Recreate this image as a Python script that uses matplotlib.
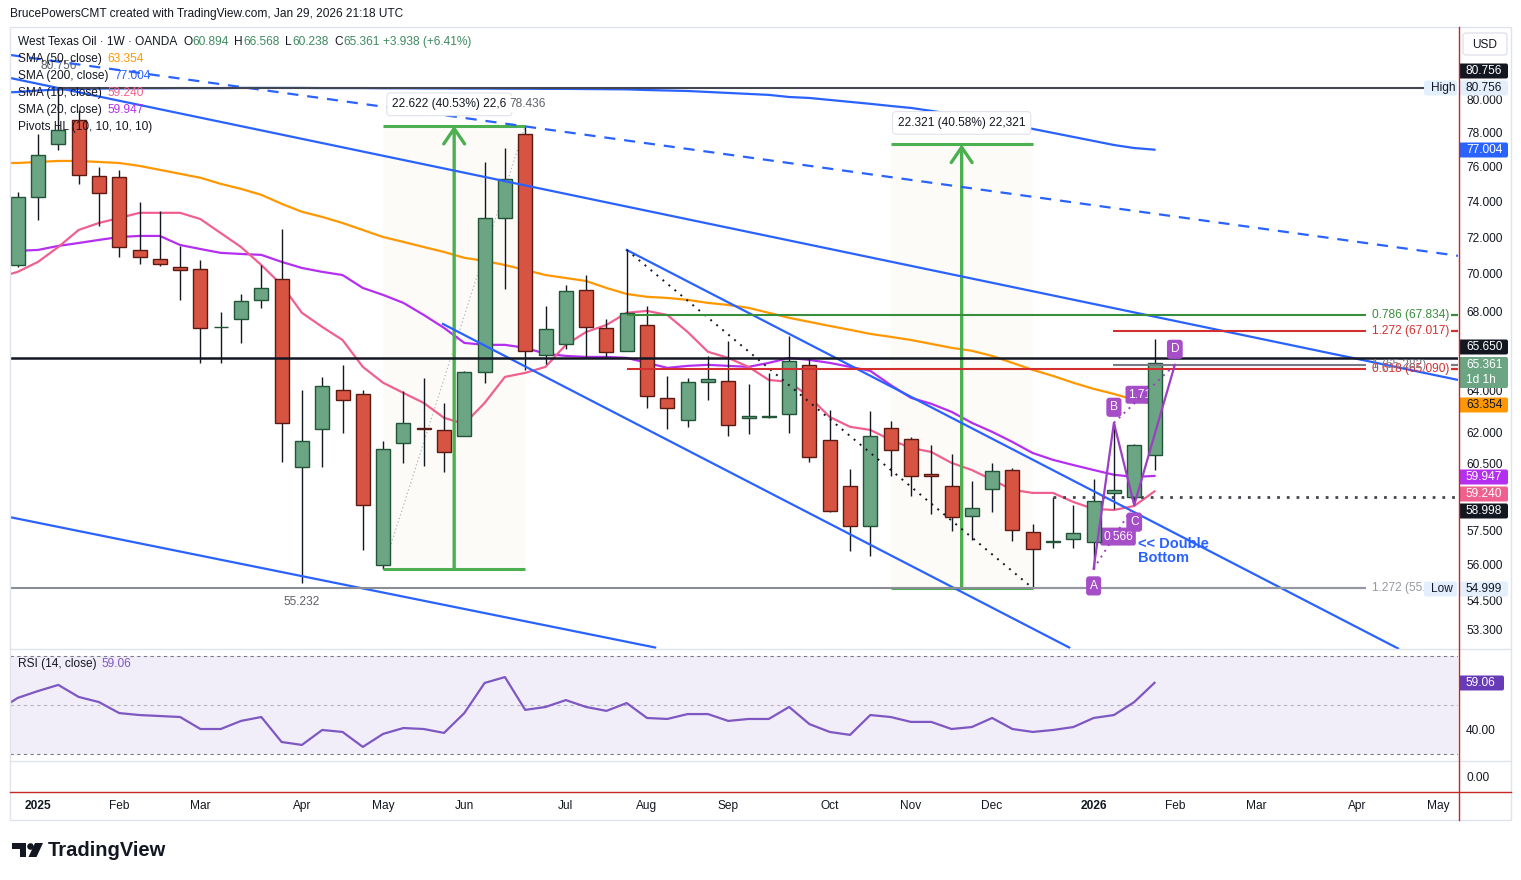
import numpy as np
import matplotlib
matplotlib.use("Agg")
import matplotlib.pyplot as plt
from matplotlib.patches import Rectangle, FancyBboxPatch, Circle, Polygon
from matplotlib.ticker import FixedLocator, FormatStrFormatter, NullLocator

plt.rcParams['font.family'] = ['Liberation Sans', 'DejaVu Sans']

########################################
# data: weekly WTI bars, bar 0 = week of 6 Jan 2025
########################################
bars = np.arange(-1, 56)
opens = [70.48, 74.27, 77.34, 78.78, 75.47, 75.41, 71.30, 70.81, 70.37, 70.27, 67.18, 67.62, 68.62, 69.73,
         60.36, 62.15, 64.04, 63.84, 55.99, 61.49, 62.20, 62.10, 61.82, 64.93, 73.07, 77.94, 65.79, 66.34,
         69.14, 67.16, 65.99, 67.31, 63.65, 62.58, 64.43, 64.48, 62.68, 62.72, 62.87, 65.28, 61.63, 59.49,
         57.69, 62.20, 61.67, 60.04, 59.49, 58.14, 59.36, 60.22, 57.42, 56.98, 57.11, 56.98, 59.17, 58.99, 60.894]
highs = [74.55, 77.94, 80.756, 79.39, 75.99, 75.82, 73.98, 73.47, 71.52, 70.76, 67.99, 68.93, 70.48, 72.46,
         64.04, 64.68, 65.28, 64.04, 61.58, 63.99, 64.63, 63.40, 64.95, 76.28, 77.11, 78.436, 68.30, 69.41,
         69.94, 67.62, 71.30, 68.30, 64.73, 64.63, 65.73, 66.49, 64.33, 64.88, 66.74, 65.58, 63.06, 60.27,
         63.01, 62.53, 61.77, 61.39, 60.97, 59.72, 60.55, 60.31, 57.78, 58.99, 58.62, 59.81, 62.44, 61.44, 66.568]
lows = [70.37, 72.96, 76.99, 75.01, 72.62, 70.92, 70.54, 70.43, 68.62, 65.38, 65.38, 66.39, 68.20, 60.59,
        55.232, 60.36, 61.96, 56.64, 55.81, 60.55, 60.41, 60.13, 61.80, 64.39, 69.20, 65.03, 65.33, 66.09,
        65.63, 65.68, 65.99, 63.16, 62.15, 62.25, 63.55, 61.82, 61.91, 62.68, 61.96, 60.59, 58.31, 56.60,
        56.38, 59.95, 59.03, 58.22, 57.47, 57.07, 58.31, 57.03, 54.999, 56.73, 56.73, 55.82, 58.45, 58.62, 60.238]
closes = [74.27, 76.70, 78.18, 75.53, 74.49, 71.46, 70.92, 70.54, 70.21, 67.16, 67.21, 68.56, 69.25, 62.44,
          61.58, 64.24, 63.55, 58.62, 61.20, 62.44, 62.15, 61.06, 64.93, 73.07, 75.30, 65.99, 67.11, 69.09,
          67.21, 65.94, 67.94, 63.74, 63.16, 64.43, 64.58, 62.34, 62.77, 62.77, 65.48, 60.83, 58.36, 57.69,
          61.82, 61.15, 59.95, 59.95, 58.09, 58.49, 60.18, 57.51, 56.68, 57.03, 57.38, 58.80, 59.31, 61.39, 65.361]

line_bars = np.arange(-2, 56)
sma10 = [69.80, 70.11, 70.65, 71.46, 72.40, 72.79, 73.07, 73.36, 73.36, 73.36, 73.01, 72.23, 71.46, 70.48,
         69.41, 67.94, 67.21, 66.54, 65.18, 64.39, 63.89, 63.40, 62.68, 62.39, 63.40, 64.68, 64.88, 65.18,
         66.29, 66.95, 67.31, 67.94, 68.04, 67.83, 66.95, 65.94, 65.63, 65.18, 64.53, 64.43, 63.70, 62.72,
         62.25, 62.10, 61.63, 61.25, 61.06, 60.55, 60.22, 59.77, 59.31, 59.17, 59.17, 58.76, 58.45, 58.40,
         58.58, 59.24]
sma20 = [71.20, 71.25, 71.30, 71.52, 71.68, 71.85, 72.01, 72.07, 72.07, 71.57, 71.35, 71.14, 71.08, 71.03,
         70.65, 70.32, 70.11, 69.94, 69.25, 68.88, 68.46, 67.83, 67.16, 66.39, 66.29, 66.29, 66.14, 65.84,
         65.73, 65.68, 65.68, 65.63, 65.38, 65.13, 65.23, 65.28, 65.23, 65.18, 65.38, 65.63, 65.53, 65.38,
         65.18, 64.98, 64.28, 63.65, 63.36, 62.97, 62.44, 62.01, 61.53, 61.01, 60.69, 60.45, 60.22, 60.00,
         59.90, 59.947]
sma50 = [76.22, 76.22, 76.28, 76.34, 76.34, 76.28, 76.22, 76.05, 75.82, 75.59, 75.36, 75.01, 74.72, 74.38,
         73.87, 73.42, 73.13, 72.79, 72.40, 72.01, 71.74, 71.46, 71.19, 70.87, 70.70, 70.48, 70.21, 69.94,
         69.78, 69.62, 69.25, 68.93, 68.78, 68.72, 68.62, 68.46, 68.35, 68.20, 67.94, 67.68, 67.47, 67.26,
         67.06, 66.85, 66.70, 66.54, 66.34, 66.14, 65.99, 65.73, 65.38, 65.03, 64.73, 64.39, 64.09, 63.84,
         63.55, 63.354]
sma200 = [80.43, 80.49, 80.58, 80.64, 80.68, 80.70, 80.71, 80.72, 80.72, 80.73, 80.73, 80.73, 80.74, 80.74,
          80.74, 80.74, 80.73, 80.73, 80.73, 80.72, 80.72, 80.71, 80.71, 80.70, 80.70, 80.69, 80.69, 80.68,
          80.68, 80.67, 80.66, 80.65, 80.61, 80.58, 80.55, 80.49, 80.43, 80.37, 80.31, 80.18, 80.12, 80.00,
          79.88, 79.76, 79.63, 79.51, 79.33, 79.15, 78.96, 78.72, 78.48, 78.24, 78.00, 77.76, 77.52, 77.28,
          77.10, 77.004]
rsi = [47.6, 52.9, 55.7, 58.2, 53.3, 51.2, 46.7, 45.9, 45.5, 45.1, 40.2, 40.2, 43.5, 45.1, 34.9, 33.7,
       39.8, 39.0, 32.9, 38.2, 40.6, 40.2, 38.6, 46.7, 59.0, 61.4, 48.0, 49.2, 52.0, 49.2, 47.6, 50.8,
       44.7, 44.3, 46.3, 46.3, 43.5, 44.3, 44.3, 49.2, 42.2, 39.0, 37.8, 45.9, 45.1, 43.1, 43.1, 40.2,
       41.0, 44.7, 40.2, 39.0, 39.8, 41.0, 44.7, 45.9, 51.2, 59.06]

month_bars = [0, 4, 8, 13, 17, 21, 26, 30, 34, 39, 43, 47, 52, 56, 60, 65, 69]
month_labels = ['2025', 'Feb', 'Mar', 'Apr', 'May', 'Jun', 'Jul', 'Aug', 'Sep', 'Oct', 'Nov', 'Dec',
                '2026', 'Feb', 'Mar', 'Apr', 'May']
price_ticks = [80, 78, 76, 74, 72, 70, 68, 64, 62, 60.5, 57.5, 56, 54.5, 53.3]

# drawings, anchored as (bar, price)
channel_top = ([-1.38, 69.95], [81.36, 64.53])
channel_dash = ([-1.38, 69.95], [82.81, 70.98])
channel_low = ([-1.38, 30.4], [58.08, 52.55])
wedge_top = ([29, 67.0], [71.30, 52.51])
wedge_low = ([19.95, 50.8], [67.36, 52.55])
swing_dots = ([29, 49], [71.30, 54.999])
range1 = (17, 24, 55.814, 78.436, '22.622 (40.53%) 22,6')
range2 = (42, 49, 54.999, 77.320, '22.321 (40.58%) 22,321')
fib_levels = [(67.834, 29, '0.786 (67.834)', '#388e3c'),
              (67.017, 52.96, '1.272 (67.017)', '#d32f2f'),
              (65.090, 29, '0.618 (65.090)', '#d32f2f'),
              (65.282, 52.96, '1 (65.282)', '#787b86'),
              (55.0, 49, '1.272 (55.0', '#9598a1')]
pattern_bars = [52, 53, 54, 56]
pattern_prices = [55.82, 62.44, 58.62, 65.28]
pattern_names = ['A', 'B', 'C', 'D']
pivot_high, pivot_low, level_black, level_dotted = 80.756, 54.999, 65.65, 58.998

########################################
# layout
########################################
W, H = 1521, 880
fig = plt.figure(figsize=(W / 100, H / 100), dpi=100, facecolor='white')

def rect(x0, y0, x1, y1):
    return [x0 / W, 1 - y1 / H, (x1 - x0) / W, (y1 - y0) / H]

ax = fig.add_axes(rect(10, 28, 1458, 649))
ax_rsi = fig.add_axes(rect(10, 649, 1458, 761))
ax_e = fig.add_axes(rect(10, 761, 1458, 792))
ax_t = fig.add_axes(rect(10, 792, 1458, 820))
over = fig.add_axes([0, 0, 1, 1], zorder=10)
over.set_xlim(0, W); over.set_ylim(H, 0); over.axis('off')

XL = (-1.38, 69.95)
TXT = '#131722'
FS = 8.6
for a in (ax, ax_rsi, ax_e, ax_t):
    a.set_xlim(*XL)
    a.set_xticks([])
    for s in a.spines.values():
        s.set_visible(False)
    a.yaxis.tick_right()
    a.tick_params(axis='y', length=0, pad=5.8, labelsize=FS, labelcolor=TXT)

########################################
# main pane
########################################
ax.set_yscale('log')
ax.set_ylim(52.49, 84.54)
ax.yaxis.set_major_locator(FixedLocator(price_ticks))
ax.yaxis.set_major_formatter(FormatStrFormatter('%.3f'))
ax.yaxis.set_minor_locator(NullLocator())

# price range tools
for b0, b1, lo, hi, lab in (range1, range2):
    ax.fill_between([b0, b1], lo, hi, color='#fcfbf8', zorder=0.5, lw=0)
    ax.hlines([lo, hi], b0, b1, color='#4caf50', lw=2.2, zorder=4)
    mid = (b0 + b1) / 2
    ax.annotate('', xy=(mid, hi), xytext=(mid, lo),
                arrowprops=dict(arrowstyle='->,head_length=1.1,head_width=0.75', color='#4caf50',
                                lw=2.4, shrinkA=0, shrinkB=0), zorder=4)
ax.text(range1[0] + 0.45, range1[3] * 1.0165, range1[4], ha='left', va='center', fontsize=FS, color=TXT,
        zorder=6, bbox=dict(boxstyle='round,pad=0.45,rounding_size=0.3', fc='white', ec='#e0e3eb', lw=0.8))
ax.text((range2[0] + range2[1]) / 2, range2[3] * 1.0165, range2[4], ha='center', va='center', fontsize=FS,
        color=TXT, zorder=6,
        bbox=dict(boxstyle='round,pad=0.45,rounding_size=0.3', fc='white', ec='#e0e3eb', lw=0.8))
ax.plot([range1[0], range1[1]], [range1[2], range1[3]], color='#b2b5be', lw=0.9, ls=(0, (1, 2)), zorder=2)

# moving averages
ax.plot(line_bars, sma50, color='#ff9800', lw=1.6, zorder=2)
ax.plot(line_bars, sma200, color='#2962ff', lw=1.6, zorder=2)
ax.plot(line_bars, sma20, color='#b52ff0', lw=1.6, zorder=2)
ax.plot(line_bars, sma10, color='#f0608e', lw=1.6, zorder=2)

# candles
o, h, l, c = map(np.array, (opens, highs, lows, closes))
up = c >= o
ax.vlines(bars, l, h, color=TXT, lw=1, zorder=3)
ax.bar(bars, np.abs(c - o), bottom=np.minimum(o, c), width=0.69,
       color=['#6ba583' if u else '#d75442' for u in up],
       edgecolor=['#225437' if u else '#5b1a13' for u in up], linewidth=1, zorder=3.1)

# trend lines
for xs, ys in (channel_top, channel_low, wedge_top, wedge_low):
    ax.plot(xs, ys, color='#2962ff', lw=1.6, zorder=4)
ax.plot(*channel_dash, color='#2962ff', lw=1.6, dashes=(5, 4), zorder=4)
ax.plot(*swing_dots, color=TXT, lw=1.4, dashes=(1, 3), zorder=4)

# horizontal levels
ax.hlines(pivot_high, 1, 68.4, color='#434651', lw=1.5, zorder=4)
ax.hlines(pivot_low, XL[0], 65.4, color='#8a8d96', lw=1.5, zorder=4)
ax.axhline(level_black, color=TXT, lw=1.8, zorder=4)
ax.hlines(level_dotted, 50, XL[1], color='#434651', lw=2, linestyles=[(0, (1, 2.5))], zorder=4)
for price, start, lab, col in fib_levels:
    ax.hlines(price, start, 65.4, color=col, lw=1.5, zorder=4)
    ax.text(65.7, price, lab, color=col, fontsize=FS, va='center', ha='left', zorder=5)
    if price > 60:
        ax.hlines(price, 69.6, XL[1], color=col, lw=1.6, zorder=5)

# pivot labels
ax.text(1, pivot_high * 1.017, '80.756', ha='center', va='center', fontsize=FS, color='#5d606b')
ax.text(13, 54.42, '55.232', ha='center', va='center', fontsize=FS, color='#5d606b')
ax.text(24.1, range1[3] * 1.0165, '78.436', ha='center', va='center', fontsize=FS, color='#5d606b',
        zorder=7, bbox=dict(fc='white', ec='none', pad=1.5))

# ABCD pattern
PUR = '#9c3fc4'
ax.plot(pattern_bars, pattern_prices, color=PUR, lw=1.6, zorder=4)
ax.plot(pattern_bars[0::2], pattern_prices[0::2], color=PUR, lw=1.4, dashes=(1, 2.5), zorder=4)
ax.plot(pattern_bars[1::2], pattern_prices[1::2], color=PUR, lw=1.4, dashes=(1, 2.5), zorder=4)
for b, p, n in zip(pattern_bars, pattern_prices, pattern_names):
    shift = 0.987 if n in 'AC' else 1.012
    ax.text(b, p * shift, n, ha='center', va='center', fontsize=FS, color='white', zorder=6,
            bbox=dict(boxstyle='round,pad=0.3,rounding_size=0.25', fc='#a64ec8', ec='none'))
ax.text(53.2, 57.22, '0.566', ha='center', va='center', fontsize=FS, color='white', zorder=2.5,
        bbox=dict(boxstyle='round,pad=0.25,rounding_size=0.2', fc='#a64ec8', ec='none'))
ax.text(54.45, 63.8, '1.718', ha='center', va='center', fontsize=FS, color='white', zorder=2.5,
        bbox=dict(boxstyle='round,pad=0.25,rounding_size=0.2', fc='#a64ec8', ec='none'))
ax.text(54.2, 56.59, '<< Double\nBottom', ha='left', va='center', fontsize=10.5, fontweight='bold',
        color='#2962ff', linespacing=1.0, zorder=6)

########################################
# RSI pane
########################################
ax_rsi.set_ylim(27.14, 72.86)
ax_rsi.axhspan(30, 70, color='#f1edf9', lw=0, zorder=0)
ax_rsi.axhline(70, color='#787b86', lw=0.8, dashes=(3, 3))
ax_rsi.axhline(30, color='#787b86', lw=0.8, dashes=(3, 3))
ax_rsi.axhline(50, color='#b2b5be', lw=0.8, dashes=(3, 3))
ax_rsi.plot(line_bars, rsi, color='#7e57c2', lw=1.6, zorder=3)
ax_rsi.yaxis.set_major_locator(FixedLocator([40]))
ax_rsi.yaxis.set_major_formatter(FormatStrFormatter('%.2f'))

ax_e.set_ylim(-1, 1)
ax_e.yaxis.set_major_locator(FixedLocator([0]))
ax_e.yaxis.set_major_formatter(FormatStrFormatter('%.2f'))

ax_t.set_ylim(0, 1)
ax_t.set_yticks([])
for b, m in zip(month_bars, month_labels):
    ax_t.text(b, 0.5, m, ha='center', va='center', fontsize=FS, color=TXT,
              fontweight='bold' if m.isdigit() else 'normal')

########################################
# frame, legend, price tags
########################################
over.add_patch(Rectangle((10, 27), 1501, 793, fill=False, ec='#e0e3eb', lw=1))
over.plot([10, 1511], [649.5, 649.5], color='#e0e3eb', lw=1)
over.plot([10, 1511], [761.5, 761.5], color='#e0e3eb', lw=1)
over.plot([1458.5, 1458.5], [27, 820], color='#c62828', lw=1)
over.plot([10, 1511], [792.5, 792.5], color='#c62828', lw=1)

over.text(10, 14, 'BrucePowersCMT created with TradingView.com, Jan 29, 2026 21:18 UTC',
          fontsize=FS, color=TXT, va='center')
UPC = '#3d8a5f'
over.text(18, 42, 'West Texas Oil · 1W · OANDA', fontsize=FS, color=TXT, va='center')
for x, t, col in [(184, 'O', TXT), (192, '60.894', UPC), (234, 'H', TXT), (243, '66.568', UPC),
                  (285, 'L', TXT), (292, '60.238', UPC), (334, 'C', TXT), (343, '65.361', UPC),
                  (383, '+3.938 (+6.41%)', UPC)]:
    over.text(x, 42, t, fontsize=FS, color=col, va='center')
for y, name, val, col, vx in [(59, 'SMA (50, close)', '63.354', '#ff9800', 107),
                              (76, 'SMA (200, close)', '77.004', '#2962ff', 114),
                              (93, 'SMA (10, close)', '59.240', '#f0608e', 107),
                              (110, 'SMA (20, close)', '59.947', '#b52ff0', 107)]:
    over.text(18, y, name, fontsize=FS, color=TXT, va='center')
    over.text(vx, y, val, fontsize=FS, color=col, va='center')
over.text(18, 127, 'Pivots HL (10, 10, 10, 10)', fontsize=FS, color=TXT, va='center')
over.text(18, 664, 'RSI (14, close)', fontsize=FS, color=TXT, va='center')
over.text(102, 664, '59.06', fontsize=FS, color='#7e57c2', va='center')

over.add_patch(FancyBboxPatch((1463, 33), 44, 22, boxstyle='round,pad=0,rounding_size=3',
                              fc='white', ec='#e0e3eb', lw=1))
over.text(1485, 44.5, 'USD', fontsize=FS, color=TXT, ha='center', va='center')

def tag(y, text, fc, tc, x=1459, w=49, h=15):
    over.add_patch(FancyBboxPatch((x, y - h / 2), w, h, boxstyle='round,pad=0,rounding_size=2',
                                  fc=fc, ec='none'))
    over.text(x + 7, y, text, color=tc, fontsize=FS, va='center', ha='left')

tag(71, '80.756', TXT, 'white')
tag(88, '80.756', '#e3effd', TXT)
tag(88, 'High', '#e3effd', TXT, x=1424, w=33)
tag(150, '77.004', '#2962ff', 'white')
tag(347, '65.650', TXT, 'white')
over.add_patch(FancyBboxPatch((1459, 357), 49, 31, boxstyle='round,pad=0,rounding_size=2',
                              fc='#6ba583', ec='none'))
over.text(1466, 365, '65.361', color='white', fontsize=FS, va='center')
over.text(1466, 380, '1d 1h', color='white', fontsize=FS, va='center')
tag(405, '63.354', '#ff9800', TXT)
tag(477, '59.947', '#b52ff0', 'white')
tag(494, '59.240', '#f0608e', 'white')
tag(511, '58.998', TXT, 'white')
tag(589, '54.999', '#e3effd', TXT)
tag(589, 'Low', '#e3effd', TXT, x=1424, w=33)
tag(683, '59.06', '#673ab7', 'white', w=45)

# TradingView watermark
over.add_patch(Polygon([(12, 843), (26, 843), (26, 857), (19.5, 857), (19.5, 849.5), (12, 849.5)],
                       closed=True, fc=TXT, ec='none'))
over.add_patch(Circle((30.5, 846.5), 3.3, fc=TXT, ec='none'))
over.add_patch(Polygon([(35, 843), (43, 843), (36.5, 857), (28.5, 857)], closed=True, fc=TXT, ec='none'))
over.text(48, 850, 'TradingView', fontsize=14.5, fontweight='bold', color=TXT, va='center')

fig.savefig('out.png', dpi=100, facecolor='white')
